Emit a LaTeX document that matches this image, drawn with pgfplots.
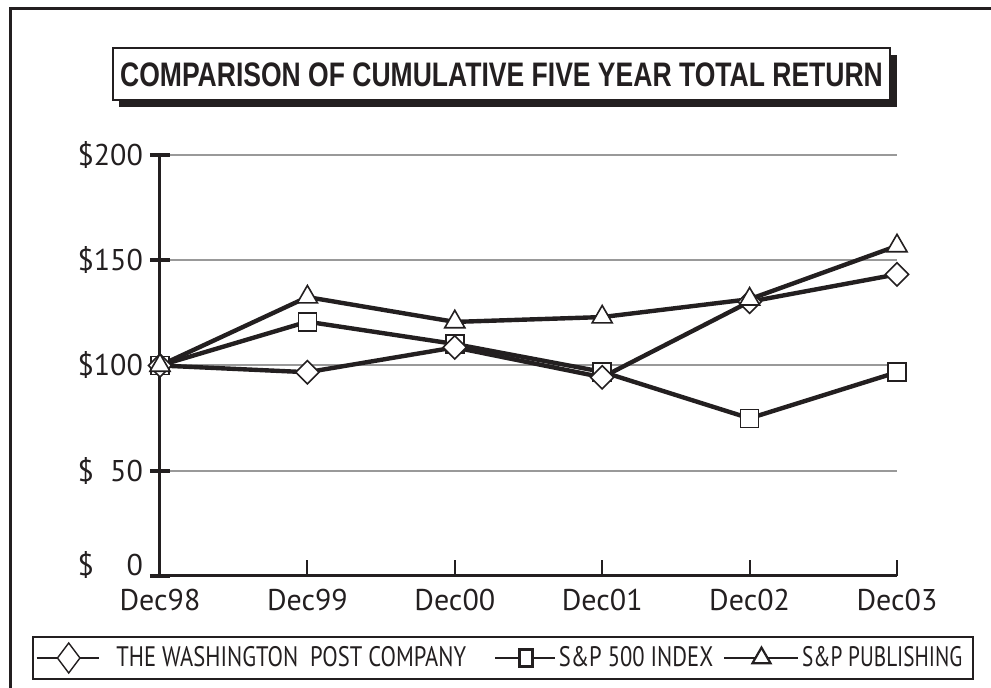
\documentclass[border=0pt]{standalone}
\usepackage{pgfplots}
\pgfplotsset{compat=1.18}
\usepackage{fontspec}
\setmainfont{PT Sans}
\newfontfamily\titlefont[FakeStretch=0.78]{Liberation Sans}
\newfontfamily\legfont[FakeStretch=0.80]{PT Sans}
\definecolor{ink}{HTML}{231F20}
\begin{document}
\begin{tikzpicture}[x=1pt,y=1pt]
\useasboundingbox (0,0) rectangle (495.5,344);
\draw[line width=1.5pt, ink] (5,-10) -- (5,339.5) -- (510,339.5);
% title box with shadow
\fill[ink] (59.5,290.5) rectangle (448.5,316.5);
\draw[line width=0.8pt, ink, fill=white] (56.5,294) rectangle (445,320);
\node[ink] at (250.75,306.5) {\titlefont\bfseries\fontsize{17}{19}\selectfont COMPARISON OF CUMULATIVE FIVE YEAR TOTAL RETURN};
\begin{axis}[
  at={(80pt,56pt)}, anchor=south west,
  scale only axis, width=368.5pt, height=210.5pt,
  xmin=0, xmax=5, ymin=0, ymax=200,
  axis lines=left, axis line style={-, line width=1.5pt, ink},
  xtick={0,1,2,3,4,5},
  xticklabels={Dec98,Dec99,Dec00,Dec01,Dec02,Dec03},
  ytick={0,50,100,150,200},
  yticklabels={\raisebox{0pt}[0pt][0pt]{\$\phantom{00}0},\$\phantom{0}50,\$100,\$150,\$200},
  ymajorgrids, grid style={line width=1pt, black!40},
  tick align=center, major tick length=10pt,
  ytick style={line width=2pt, ink},
  xtick style={line width=1pt, ink, /pgfplots/major tick length=8pt, yshift=4pt},
  ticklabel style={font=\fontsize{15}{17}\selectfont, text=ink},
  xticklabel style={yshift=2pt},
  legend columns=3,
  legend style={at={(-0.17368,-0.24703)}, anchor=south west, draw=ink, line width=1pt,
    inner xsep=1.5pt, inner ysep=3pt, column sep=0pt,
    nodes={inner sep=0pt, font=\legfont\fontsize{14.1}{16}\selectfont, text=ink}},
  legend cell align=left,
]
\addplot[ink, line width=2.2pt, mark=square*, mark size=4.5pt, mark options={fill=white, line width=0.8pt}, forget plot]
  coordinates {(0,100) (1,120.8) (2,110.2) (3,97) (4,74.9) (5,96.8)};
\addplot[ink, line width=2.2pt, mark=square*, mark size=4.1pt, mark options={rotate=45, fill=white, line width=0.8pt}, forget plot]
  coordinates {(0,100) (1,96.8) (2,108.6) (3,94.4) (4,130.3) (5,143.3)};
\addplot[ink, line width=2.2pt, mark=triangle*, mark size=5.8pt, mark options={fill=white, line width=0.8pt}, forget plot]
  coordinates {(0,100) (1,132.5) (2,120.7) (3,123) (4,131.5) (5,156.8)};
\addlegendimage{legend image code/.code={
  \draw[ink, line width=0.7pt] (0pt,0pt) -- (31pt,0pt);
  \draw[ink, line width=0.7pt, mark=diamond*, mark size=7.5pt, mark options={fill=white}] plot coordinates {(16pt,0pt)};}}
\addlegendentry{\hspace{8.5pt}\makebox[189pt][l]{THE WASHINGTON\ \ POST COMPANY}}
\addlegendimage{legend image code/.code={
  \draw[ink, line width=0.7pt] (0pt,0pt) -- (30pt,0pt);
  \draw[ink, line width=1.2pt, mark=square*, mark size=4.25pt, mark options={fill=white, xscale=0.76}] plot coordinates {(15.5pt,0pt)};}}
\addlegendentry{\hspace{1.5pt}\makebox[82.5pt][l]{S\&P 500 INDEX}}
\addlegendimage{legend image code/.code={
  \draw[ink, line width=0.7pt] (0pt,0pt) -- (37pt,0pt);
  \draw[ink, line width=1.1pt, mark=triangle*, mark size=5.2pt, mark options={fill=white}] plot coordinates {(18.5pt,0pt)};}}
\addlegendentry{\hspace{1.5pt}\makebox[84pt][l]{\scalebox{0.94}[1]{S\&P PUBLISHING}}}
\end{axis}
\end{tikzpicture}
\end{document}
